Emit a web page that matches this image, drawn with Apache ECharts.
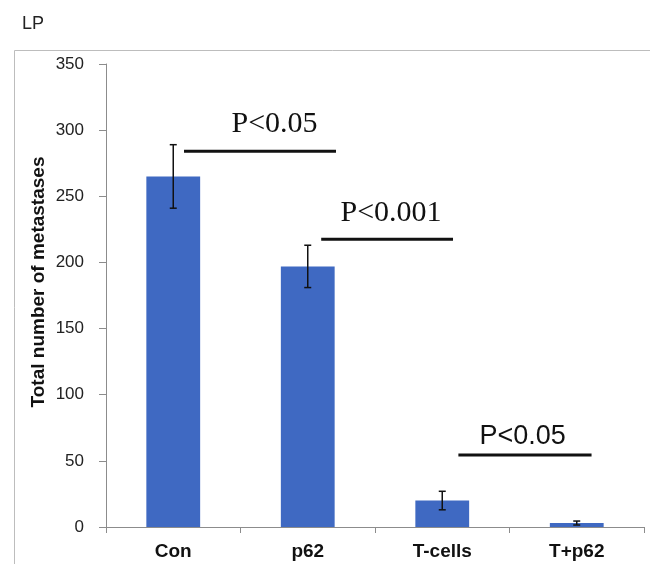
<!DOCTYPE html>
<html>
<head>
<meta charset="utf-8">
<script src="https://cdn.jsdelivr.net/npm/echarts@6/dist/echarts.min.js"></script>
<style>
html,body{margin:0;padding:0;background:#fff;}
#chart{width:650px;height:564px;}
</style>
</head>
<body>
<div id="chart"></div>
<script>
const categories = ['Con', 'p62', 'T-cells', 'T+p62'];
const metastases = [265, 197, 20, 3];
const errors = [24, 16, 7, 1.5];
const yTicks = { min: 0, max: 350, step: 50 };
const sigLabels = ['P<0.05', 'P<0.001', 'P<0.05'];
const sigStart = [0.58, 1.60, 2.62];
const sigEnd = [1.71, 2.58, 3.61];
const sigLineY = [284, 217.5, 54.5];
const sigTextX = [1.253, 2.119, 3.097];
const sigTextY = [304.5, 237, 68];

const chart = echarts.init(document.getElementById('chart'));

const errData = categories.map((c, i) => [i, metastases[i], errors[i]]);
const sigData = sigLabels.map((t, i) => [sigStart[i], sigLineY[i], sigEnd[i], sigTextX[i], sigTextY[i]]);

const option = {
  animation: false,
  title: {
    text: 'LP', left: 17, top: 10,
    textStyle: { fontFamily: 'Liberation Sans', fontSize: 18, fontWeight: 'normal', color: '#222' }
  },
  graphic: [
    { type: 'rect', shape: { x: 14.5, y: 50.5, width: 660, height: 600 },
      style: { fill: 'none', stroke: '#bdbdbd', lineWidth: 1 }, silent: true, z: -10 },
    { type: 'text', x: 39, y: 282, rotation: Math.PI / 2,
      style: { text: 'Total number of metastases', fontFamily: 'Liberation Sans', fontSize: 19,
               fontWeight: 'bold', fill: '#111', align: 'center', verticalAlign: 'middle' } }
  ],
  grid: { left: 106, right: 6, top: 64, bottom: 37 },
  xAxis: [
    {
      type: 'category', data: categories,
      axisLine: { lineStyle: { color: '#8c8c8c', width: 1 } },
      axisTick: { show: true, length: 6, lineStyle: { color: '#8c8c8c' } },
      axisLabel: { fontFamily: 'Liberation Sans', fontSize: 19, fontWeight: 'bold', color: '#111', margin: 15 }
    },
    { type: 'value', min: 0, max: 4, show: false }
  ],
  yAxis: {
    type: 'value', min: yTicks.min, max: yTicks.max, interval: yTicks.step,
    axisLine: { show: true, lineStyle: { color: '#8c8c8c', width: 1 } },
    axisTick: { show: true, length: 7, lineStyle: { color: '#8c8c8c' } },
    splitLine: { show: false },
    axisLabel: { fontFamily: 'Liberation Sans', fontSize: 17, color: '#222', margin: 22, padding: [0, 0, 4, 0] }
  },
  series: [
    {
      type: 'bar', data: metastases, barWidth: '40%',
      itemStyle: { color: '#3f69c2' }
    },
    {
      type: 'custom', data: errData, encode: { x: 0, y: 1 }, z: 5,
      renderItem: function (params, api) {
        const i = api.value(0), v = api.value(1), e = api.value(2);
        const top = api.coord([i, v + e]);
        const bot = api.coord([i, v - e]);
        const hw = 3.5;
        const st = { stroke: '#111', lineWidth: 1.5 };
        return { type: 'group', children: [
          { type: 'line', shape: { x1: top[0], y1: top[1], x2: bot[0], y2: bot[1] }, style: st },
          { type: 'line', shape: { x1: top[0] - hw, y1: top[1], x2: top[0] + hw, y2: top[1] }, style: st },
          { type: 'line', shape: { x1: bot[0] - hw, y1: bot[1], x2: bot[0] + hw, y2: bot[1] }, style: st }
        ]};
      }
    },
    {
      type: 'custom', xAxisIndex: 1, data: sigData, encode: { x: [0, 2], y: 1 }, z: 6,
      renderItem: function (params, api) {
        const p0 = api.coord([api.value(0), api.value(1)]);
        const p1 = api.coord([api.value(2), api.value(1)]);
        const pt = api.coord([api.value(3), api.value(4)]);
        const serif = params.dataIndex < 2;
        return { type: 'group', children: [
          { type: 'line', shape: { x1: p0[0], y1: p0[1], x2: p1[0], y2: p1[1] },
            style: { stroke: '#111', lineWidth: 3 } },
          { type: 'text', x: pt[0], y: pt[1],
            style: { text: sigLabels[params.dataIndex],
                     fontFamily: serif ? 'Liberation Serif' : 'Liberation Sans',
                     fontSize: serif ? 30 : 27, fill: '#111', align: 'center', verticalAlign: 'middle' } }
        ]};
      }
    }
  ]
};
chart.setOption(option);
</script>
</body>
</html>
